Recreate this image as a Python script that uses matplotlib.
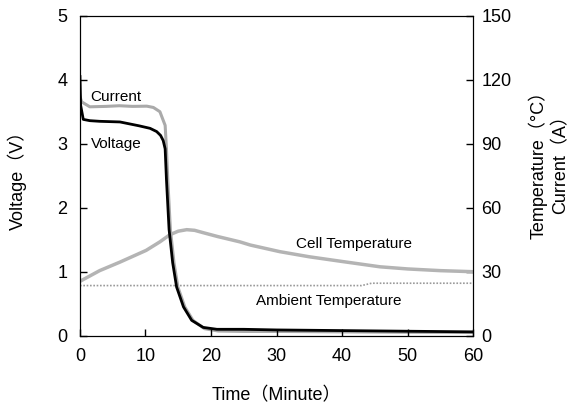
import matplotlib.pyplot as plt

plt.rcParams['font.family'] = ['Liberation Sans', 'Noto Sans CJK JP']

# discharge test, time in minutes
t_volt = [0, 0.1, 0.5, 1.5, 3, 6.1, 9, 10.7, 11.7, 12.3, 12.7, 13.0, 13.2, 13.6,
          14.15, 14.75, 15.8, 17.05, 18.8, 20.9, 25, 30, 40, 50, 60]
voltage = [4.05, 3.6, 3.38, 3.36, 3.35, 3.34, 3.28, 3.24, 3.19, 3.13, 3.05, 2.92,
           2.44, 1.66, 1.14, 0.76, 0.45, 0.24, 0.13, 0.1, 0.1, 0.09, 0.08, 0.07, 0.06]

t_curr = [0, 0.26, 1.5, 4, 6, 8, 10.2, 11.2, 12.2, 13.0, 13.2, 13.4, 13.8, 14.35,
          14.95, 16.0, 17.25, 19.0, 21.1, 25, 30, 40, 50, 60]
current = [112, 109.6, 107.3, 107.5, 107.8, 107.5, 107.6, 107, 105, 98.6, 87.6,
           73.2, 49.8, 34.2, 22.8, 13.5, 7.2, 3.3, 2.2, 2, 2, 1.8, 1.6, 1.5]

t_cell = [0, 3, 6.1, 10.1, 12.2, 13.7, 15, 16.3, 17.5, 18.8, 21, 24.4, 26, 30.5,
          35, 40, 45.8, 50, 55, 60]
cell_temp = [25.5, 30.5, 34.5, 40, 44, 47.3, 49, 49.7, 49.4, 48.3, 46.5, 44, 42.5,
             39.4, 37, 34.8, 32.3, 31.3, 30.5, 30]

t_amb = [0, 43, 44.5, 60]
amb_temp = [23.5, 23.5, 24.6, 24.6]

fig = plt.figure(figsize=(5.73, 4.05), dpi=100)
ax = fig.add_axes([0.1396, 0.1711, 0.6859, 0.7901])
ax2 = ax.twinx()

ax2.plot(t_amb, amb_temp, color='#9a9a9a', lw=1.2, ls=(0, (1, 1)))
ax2.plot(t_cell, cell_temp, color='#b4b4b4', lw=2.5)
ax.plot(t_volt, voltage, color='black', lw=2, zorder=3)
ax2.plot(t_curr, current, color='#aaaaaa', lw=2.2, zorder=4)

ax.set_xlim(0, 60)
ax.set_ylim(0, 5)
ax2.set_ylim(0, 150)
ax.set_xticks(range(0, 61, 10))
ax.set_yticks(range(0, 6))
ax2.set_yticks(range(0, 151, 30))

for a in (ax, ax2):
    a.tick_params(direction='in', length=5, labelsize=13, width=1)
    a.set_zorder(1)
ax.set_zorder(2)
ax.patch.set_visible(False)
ax.tick_params(axis='x', pad=9)
ax.tick_params(axis='y', pad=9)
ax2.tick_params(axis='y', pad=6)

ax.set_xlabel('Time（Minute）', fontsize=13, labelpad=16)
ax.set_ylabel('Voltage（V）', fontsize=13, labelpad=22)
# right-hand axis title, two stacked lines
fig.text(0.958, 0.605, 'Temperature（°C）\nCurrent（A）', fontsize=13,
         rotation=90, ha='center', va='center', multialignment='center',
         linespacing=1.3)

ax.text(1.6, 3.67, 'Current', fontsize=11)
ax.text(1.6, 2.93, 'Voltage', fontsize=11)
ax2.text(33, 41, 'Cell Temperature', fontsize=11)
ax2.text(26.9, 14.4, 'Ambient Temperature', fontsize=11)

fig.savefig('out.png', dpi=100)
